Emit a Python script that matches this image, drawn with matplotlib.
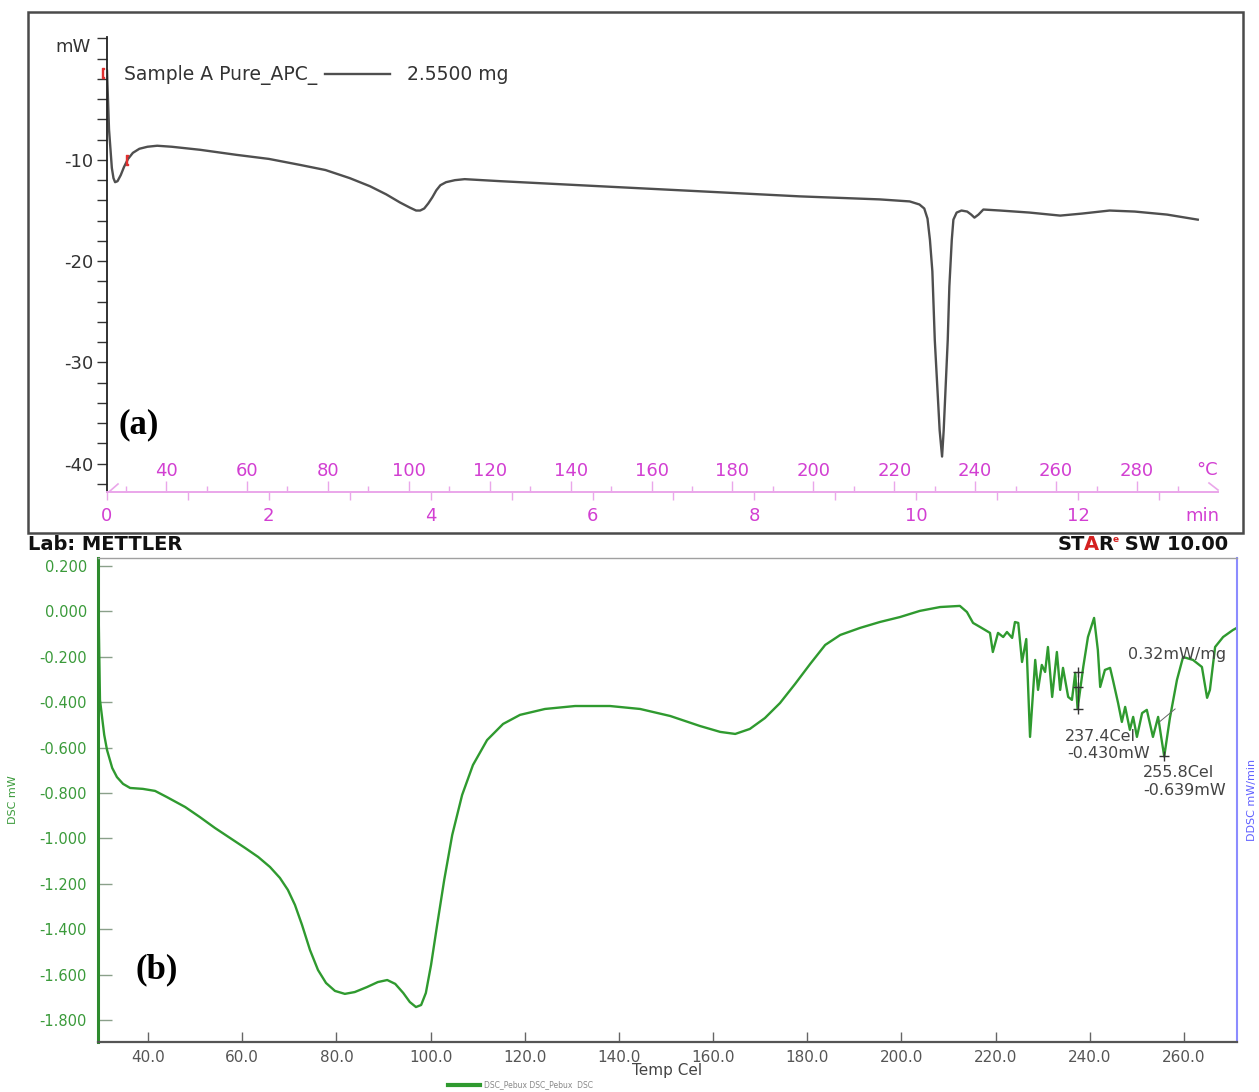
import matplotlib
matplotlib.use('Agg')  # no display
import matplotlib.pyplot as plt
from matplotlib.lines import Line2D
from matplotlib.patches import Rectangle
from matplotlib.ticker import FixedLocator, FormatStrFormatter

plt.rcParams['font.family'] = 'DejaVu Sans'
plt.rcParams['axes.unicode_minus'] = False

# ---- (a) heat flow of sample A vs. time (heating 20 K/min from ~25 C) ----
time_min = [0.0, 0.025, 0.06, 0.08, 0.10, 0.13, 0.17, 0.21, 0.26, 0.32, 0.40,
            0.50, 0.62, 0.80, 1.15, 1.60, 2.00, 2.39, 2.70, 3.00, 3.25, 3.45,
            3.62, 3.74, 3.82, 3.87, 3.92, 3.97, 4.02, 4.07, 4.12, 4.19, 4.30,
            4.42, 4.86, 6.09, 7.33, 8.56, 9.55, 9.92, 10.04, 10.10, 10.14,
            10.17, 10.20, 10.23, 10.29, 10.32, 10.34, 10.39, 10.41, 10.44,
            10.46, 10.50, 10.56, 10.63, 10.68, 10.72, 10.77, 10.83, 11.04,
            11.40, 11.78, 12.05, 12.39, 12.70, 13.10, 13.48]
heat_flow_mw = [-1.2, -7.0, -10.8, -11.8, -12.2, -12.1, -11.5, -10.7, -9.9,
                -9.3, -8.9, -8.7, -8.6, -8.7, -9.0, -9.5, -9.9, -10.5, -11.0,
                -11.8, -12.6, -13.4, -14.2, -14.7, -15.0, -15.0, -14.8, -14.3,
                -13.7, -13.0, -12.5, -12.2, -12.0, -11.9, -12.1, -12.6, -13.1,
                -13.6, -13.9, -14.1, -14.4, -14.8, -15.8, -17.9, -21.0, -27.8,
                -36.7, -39.3, -36.7, -27.8, -22.5, -17.9, -15.9, -15.2, -15.0,
                -15.1, -15.4, -15.7, -15.4, -14.9, -15.0, -15.2, -15.5, -15.3,
                -15.0, -15.1, -15.4, -15.9]
integration_limits = [(-0.05, -1.4), (0.25, -10.0)]
sample_name = 'Sample A Pure_APC_'
sample_mass = '2.5500 mg'

time_ticks = [0, 2, 4, 6, 8, 10, 12]
temp_ticks = [40, 60, 80, 100, 120, 140, 160, 180, 200, 220, 240, 260, 280]

# ---- (b) DSC of the second sample vs. temperature ----
temp_c = [29.4, 29.6, 29.8, 30.7, 31.3, 32.4, 33.4, 34.7, 36.2, 38.9, 41.5, 44.0,
          47.9, 51.0, 54.2, 57.4, 60.6, 63.4, 65.9, 68.0, 69.7, 71.2, 72.7, 74.4,
          76.1, 77.8, 79.7, 81.8, 83.9, 86.5, 88.8, 90.8, 92.5, 94.2, 95.6, 96.9,
          98.0, 99.0, 100.1, 101.4, 102.9, 104.6, 106.7, 109.0, 112.0, 115.4,
          119.0, 124.3, 130.7, 138.1, 144.5, 150.9, 157.2, 161.5, 164.7, 167.8,
          171.0, 174.2, 177.4, 180.6, 183.8, 187.0, 191.2, 195.4, 199.7, 203.9,
          208.2, 212.4, 213.9, 215.2, 216.7, 218.8, 219.4, 220.5, 221.6, 222.4,
          223.5, 224.1, 224.8, 225.6, 226.5, 227.3, 228.4, 229.0, 229.8, 230.5,
          231.1, 232.0, 233.0, 233.7, 234.3, 235.4, 236.2, 236.9, 237.4, 238.6,
          239.6, 240.9, 241.7, 242.2, 243.2, 244.3, 244.9, 246.0, 246.8, 247.5,
          248.5, 249.2, 250.0, 251.1, 252.1, 253.4, 254.5, 255.2, 255.8, 257.0,
          258.5, 259.8, 261.9, 263.8, 264.9, 265.5, 266.6, 268.3, 270.4, 271.2]
dsc_mw = [0.16, -0.126, -0.390, -0.544, -0.611, -0.690, -0.730, -0.760, -0.778,
          -0.782, -0.791, -0.818, -0.862, -0.906, -0.954, -0.998, -1.042, -1.082,
          -1.126, -1.174, -1.227, -1.293, -1.381, -1.492, -1.580, -1.637, -1.672,
          -1.685, -1.677, -1.655, -1.633, -1.624, -1.641, -1.681, -1.721, -1.743,
          -1.734, -1.681, -1.558, -1.381, -1.183, -0.985, -0.809, -0.677, -0.567,
          -0.496, -0.456, -0.430, -0.417, -0.417, -0.430, -0.461, -0.505, -0.531,
          -0.540, -0.518, -0.470, -0.404, -0.320, -0.232, -0.148, -0.104, -0.073,
          -0.047, -0.025, 0.002, 0.019, 0.024, -0.003, -0.051, -0.069, -0.095,
          -0.179, -0.095, -0.113, -0.091, -0.117, -0.047, -0.051, -0.223, -0.122,
          -0.553, -0.214, -0.346, -0.236, -0.267, -0.157, -0.377, -0.179, -0.346,
          -0.249, -0.377, -0.390, -0.271, -0.430, -0.245, -0.113, -0.029, -0.170,
          -0.333, -0.258, -0.249, -0.302, -0.404, -0.487, -0.421, -0.522, -0.465,
          -0.553, -0.448, -0.434, -0.553, -0.465, -0.560, -0.639, -0.470, -0.302,
          -0.201, -0.214, -0.245, -0.381, -0.346, -0.157, -0.113, -0.082, -0.073]
dsc_ticks = [0.2, 0.0, -0.2, -0.4, -0.6, -0.8, -1.0, -1.2, -1.4, -1.6, -1.8]
temp_axis_ticks = [40, 60, 80, 100, 120, 140, 160, 180, 200, 220, 240, 260]
peak1 = (237.4, -0.430)
peak2 = (255.8, -0.639)
step_marks = [-0.265, -0.335, -0.430]

W, H = 1259, 1092
fig = plt.figure(figsize=(W / 100, H / 100), dpi=100)


def px_rect(x0, y0, x1, y1):
    return [x0 / W, 1 - y1 / H, (x1 - x0) / W, (y1 - y0) / H]


def ftext(x, y, s, **kw):
    return fig.text(x / W, 1 - y / H, s, **kw)


def fline(xs, ys, **kw):
    fig.add_artist(Line2D([x / W for x in xs], [1 - y / H for y in ys],
                          transform=fig.transFigure, **kw))


pink = '#d23fd2'
pink_line = '#eaa6ea'

# frame around the upper panel
fig.add_artist(Rectangle((28 / W, 1 - 533 / H), (1243 - 28) / W, (533 - 12) / H,
                         transform=fig.transFigure, fill=False,
                         ec='#4a4a4a', lw=1.8))

ax = fig.add_axes(px_rect(107, 37, 1218, 492))
ax.plot(time_min, heat_flow_mw, color='#4f4f4f', lw=1.7)
for t, v in integration_limits:
    ax.plot(t, v, marker='$[$', color='#e03030', ms=7, clip_on=False)
ax.set_xlim(0, 13.73)
ax.set_ylim(-42.8, 2.14)
ax.patch.set_visible(False)
for s in ['top', 'right']:
    ax.spines[s].set_visible(False)
ax.spines['left'].set_color('#222222')
ax.spines['left'].set_linewidth(1.3)
ax.spines['bottom'].set_color(pink_line)
ax.spines['bottom'].set_linewidth(1.4)
ax.yaxis.set_major_locator(FixedLocator([-10, -20, -30, -40]))
ax.yaxis.set_minor_locator(FixedLocator(list(range(-42, 3, 2))))
ax.tick_params(axis='y', which='both', direction='out', length=7, width=1,
               color='#333333', labelsize=13, labelcolor='#333333', pad=3)
ax.xaxis.set_major_locator(FixedLocator(time_ticks))
ax.xaxis.set_minor_locator(FixedLocator([1, 3, 5, 7, 9, 11, 13]))
ax.tick_params(axis='x', which='both', direction='out', length=6, width=1,
               color=pink_line, labelsize=13, labelcolor=pink, pad=5)

# temperature scale sits on the same baseline, ticks and labels above it
tax = fig.add_axes(px_rect(107, 37, 1218, 492))
tax.set_xlim(25.4, 300)
tax.patch.set_visible(False)
for s in tax.spines.values():
    s.set_visible(False)
tax.spines['top'].set_position(('axes', 0))
tax.xaxis.set_ticks_position('top')
tax.set_yticks([])
tax.xaxis.set_major_locator(FixedLocator(temp_ticks))
tax.xaxis.set_minor_locator(FixedLocator(list(range(30, 300, 20))))
tax.tick_params(axis='x', which='major', direction='out', length=8, width=1,
                color=pink_line, labelsize=13, labelcolor=pink, pad=1)
tax.tick_params(axis='x', which='minor', direction='out', length=4, width=1,
                color=pink_line)

fline([110, 118], [491, 484], color=pink_line, lw=1.2)
fline([1209, 1218], [483, 490], color=pink_line, lw=1.2)
ftext(1207, 470, '°C', color=pink, fontsize=13, ha='center', va='center')
ftext(1202, 516, 'min', color=pink, fontsize=13, ha='center', va='center')
ftext(91, 47, 'mW', color='#333333', fontsize=13, ha='right', va='center')

ftext(124, 75, sample_name, color='#333333', fontsize=13.5, va='center')
fline([325, 390], [74, 74], color='#4f4f4f', lw=1.7)
ftext(407, 75, sample_mass, color='#333333', fontsize=13.5, va='center')
ftext(139, 425, '(a)', family='Liberation Serif', weight='bold', fontsize=25,
      ha='center', va='center', color='black')

# ---- lower panel ----
ftext(28, 545, 'Lab: METTLER', weight='bold', fontsize=14, va='center',
      color='#111111')
renderer = fig.canvas.get_renderer()
x_cursor = 1058
for piece, col, size, dy in [('ST', '#111111', 14, 0), ('A', '#d42020', 14, 0),
                             ('R', '#111111', 14, 0), ('e', '#d42020', 6.5, -5),
                             (' SW 10.00', '#111111', 14, 0)]:
    t = ftext(x_cursor, 545 + dy, piece, weight='bold', fontsize=size,
              va='center', color=col)
    bb = t.get_window_extent(renderer)
    x_cursor += bb.width - 1

bx = fig.add_axes(px_rect(98, 558, 1237, 1042))
bx.plot(temp_c, dsc_mw, color='#2f9a2f', lw=1.7,
        label='DSC_Pebux DSC_Pebux  DSC')
bx.set_xlim(29.38, 271.25)
bx.set_ylim(-1.897, 0.235)
bx.spines['left'].set_color('#2e8b2e')
bx.spines['left'].set_linewidth(2.2)
bx.spines['right'].set_color('#8c8cff')
bx.spines['right'].set_linewidth(1.5)
bx.spines['top'].set_color('#a0a0a0')
bx.spines['top'].set_linewidth(1.0)
bx.spines['bottom'].set_color('#555555')
bx.spines['bottom'].set_linewidth(1.6)

bx.yaxis.set_major_locator(FixedLocator(dsc_ticks))
bx.yaxis.set_major_formatter(FormatStrFormatter('%.3f'))
bx.tick_params(axis='y', direction='in', length=10, width=1, color='#8aa08a',
               labelsize=10.5, labelcolor='#3a9a3a', pad=8)
bx.xaxis.set_major_locator(FixedLocator(temp_axis_ticks))
bx.xaxis.set_major_formatter(FormatStrFormatter('%.1f'))
bx.tick_params(axis='x', direction='in', length=7, width=1, color='#666666',
               labelsize=11, labelcolor='#555555', pad=6)

bx.set_xlabel('Temp Cel', fontsize=11, color='#444444', labelpad=-2)
bx.set_ylabel('DSC mW', fontsize=8, color='#3a9a3a')
bx.yaxis.set_label_coords((18 - 98) / 1139, 0.5)
bx.text((1252 - 98) / 1139, 0.5, 'DDSC mW/min', transform=bx.transAxes,
        rotation=90, fontsize=8, color='#6060ff', ha='center', va='center')

# peak evaluation marks
bx.plot([peak1[0]] * len(step_marks), step_marks, color='#333333', lw=0.8,
        marker='+', ms=7, mew=1)
bx.plot([254.6, 258.1], [-0.49, -0.43], color='#666666', lw=0.7)
bx.plot(peak2[0], peak2[1], marker='+', color='#333333', ms=7, mew=1)
ann = dict(fontsize=11.5, color='#444444', va='center', ha='left')
bx.text(248.1, -0.192, '0.32mW/mg', **ann)
bx.text(234.7, -0.553, f'{peak1[0]:.1f}Cel', **ann)
bx.text(235.2, -0.628, f'{peak1[1]:.3f}mW', **ann)
bx.text(251.3, -0.712, f'{peak2[0]:.1f}Cel', **ann)
bx.text(251.3, -0.787, f'{peak2[1]:.3f}mW', **ann)

ftext(157, 970, '(b)', family='Liberation Serif', weight='bold', fontsize=25,
      ha='center', va='center', color='black')

leg = bx.legend(loc='center left', bbox_to_anchor=((448 - 98) / 1139, -43 / 484),
                frameon=False, fontsize=5.5, handlelength=4.2, handletextpad=0.5,
                borderaxespad=0, borderpad=0)
leg.get_lines()[0].set_linewidth(3)
for txt in leg.get_texts():
    txt.set_color('#888888')

fig.savefig('out.png', dpi=100, facecolor='white')
